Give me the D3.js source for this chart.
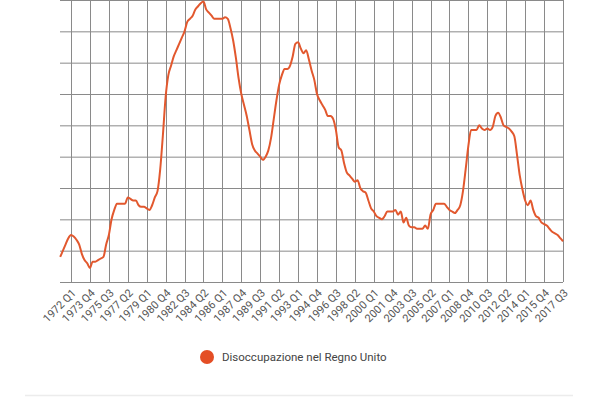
<!DOCTYPE html>
<html><head><meta charset="utf-8">
<script src="https://cdn.jsdelivr.net/npm/d3@7"></script>
<style>body{margin:0;background:#fff;font-family:Roboto,sans-serif}</style>
</head><body><svg id="c" width="600" height="400"></svg>
<script>
const startYear = 1971;
const seriesName = "Disoccupazione nel Regno Unito";
const unemployment = [
 3.8,4.0,4.2,4.4, 4.5,4.45,4.35,4.2, 3.9,3.7,3.6,3.45, 3.65,3.65,3.7,3.75,
 3.8,4.2,4.5,5.0, 5.3,5.5,5.5,5.5, 5.5,5.7,5.65,5.6, 5.6,5.45,5.4,5.4,
 5.35,5.3,5.45,5.7, 5.9,6.6,7.7,8.9, 9.6,9.9,10.2,10.4, 10.6,10.8,11.0,11.3,
 11.4,11.5,11.7,11.8, 11.9,11.95,11.7,11.6, 11.5,11.4,11.4,11.4, 11.4,11.45,11.4,11.1,
 10.7,10.15,9.5,9.0, 8.65,8.3,7.85,7.4, 7.2,7.1,7.0,6.9, 7.0,7.2,7.6,8.2,
 8.8,9.3,9.6,9.8, 9.8,9.9,10.2,10.6, 10.65,10.45,10.3,10.4, 10.1,9.75,9.45,9.0,
 8.8,8.65,8.5,8.3, 8.3,8.2,7.85,7.3, 7.2,6.8,6.5,6.4, 6.3,6.2,6.25,6.0,
 5.9,5.85,5.6,5.35, 5.25,5.1,5.05,5.0, 5.1,5.25,5.25,5.25, 5.3,5.15,5.25,4.9,
 5.05,4.8,4.75,4.75, 4.7,4.7,4.7,4.8, 4.7,5.15,5.3,5.5, 5.5,5.5,5.5,5.4,
 5.3,5.25,5.2,5.3, 5.45,5.9,6.6,7.35, 7.85,7.85,7.85,8.0, 7.9,7.85,7.9,7.85,
 7.95,8.3,8.4,8.25, 8.0,7.95,7.9,7.8, 7.65,7.05,6.4,5.95, 5.6,5.45,5.6,5.3,
 5.1,5.05,4.9,4.85, 4.8,4.7,4.6,4.55, 4.5,4.4,4.3
];
const quarterLabels = unemployment.map((_, i) => (startYear + Math.floor(i/4)) + " Q" + (i%4+1));
const tickIndices = d3.range(4, unemployment.length, 7);
const yGrid = d3.range(3, 12.01, 1);

const svg = d3.select("#c");
const x = d3.scaleLinear().domain([0, unemployment.length-1]).range([60.2, 563]);
const y = d3.scaleLinear().domain([3, 12]).range([282, 0]);

const g = svg.append("g");
g.selectAll(".h").data(yGrid).join("line")
 .attr("x1",60).attr("x2",563).attr("y1",d=>y(d)+0.5).attr("y2",d=>y(d)+0.5)
 .attr("stroke","#8a8a8a").attr("stroke-width",1);
g.selectAll(".v").data(tickIndices).join("line")
 .attr("x1",d=>Math.round(x(d))+0.5).attr("x2",d=>Math.round(x(d))+0.5).attr("y1",0).attr("y2",282)
 .attr("stroke","#8a8a8a").attr("stroke-width",1);
g.selectAll(".t").data(tickIndices).join("text")
 .attr("transform",d=>`translate(${x(d)+3},${291}) rotate(-45)`)
 .attr("text-anchor","end").attr("dy","0.35em")
 .attr("font-size",11).attr("fill","#555").text(d=>quarterLabels[d]);

const line = d3.line().x((d,i)=>x(i)).y(d=>y(d)).curve(d3.curveMonotoneX);
svg.append("path").datum(unemployment).attr("d",line)
 .attr("fill","none").attr("stroke","#e2582e").attr("stroke-width",2).attr("stroke-linejoin","round");

const lg = svg.append("g");
lg.append("circle").attr("cx",207).attr("cy",357).attr("r",7).attr("fill","#e44e25");
lg.append("text").attr("x",222).attr("y",357).attr("dy","0.35em").attr("font-size",11.5).attr("fill","#444").text(seriesName);
svg.append("line").attr("x1",25).attr("x2",573).attr("y1",395.5).attr("y2",395.5).attr("stroke","#ececec").attr("stroke-width",1.5);
</script></body></html>
